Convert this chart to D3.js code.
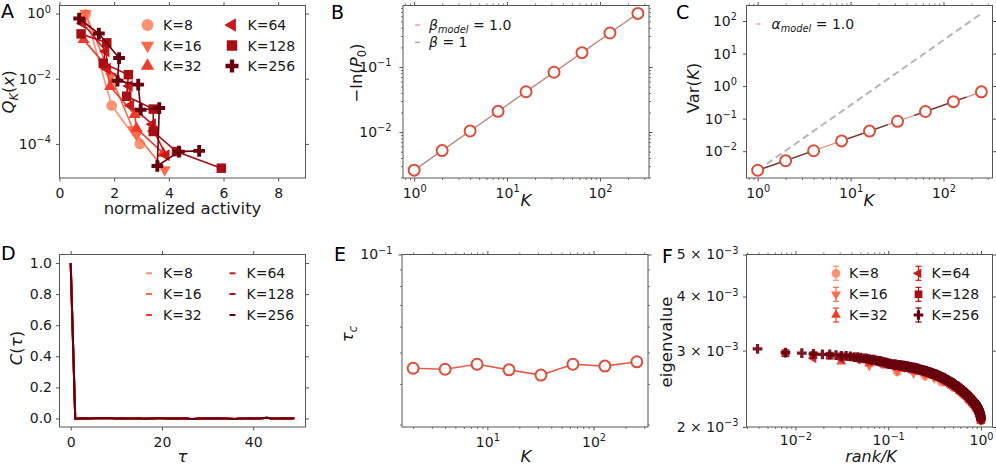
<!DOCTYPE html>
<html>
<head>
<meta charset="utf-8">
<title>Figure</title>
<script src="https://cdn.jsdelivr.net/npm/d3@7"></script>
<style>
  body { margin: 0; background: #fff; }
  svg { font-family: "DejaVu Sans", sans-serif; }
</style>
</head>
<body>
<svg id="fig" width="996" height="465"></svg>
<script>
// ---------------- data ----------------
var kList = [8, 16, 32, 64, 128, 256];
var kColors = ["#fc9272", "#fb6a4a", "#ef3b2c", "#cb181d", "#a50f15", "#67000d"];
var kShapes = ["circle", "down", "up", "left", "square", "plus"];

// A: Q_K(x) vs normalized activity (one array per K, in kList order)
var actX = [
  [0.96, 1.91, 2.94],
  [0.95, 1.88, 2.70, 2.82, 3.85],
  [0.88, 1.70, 1.85, 2.75, 2.82, 3.79],
  [0.85, 1.70, 1.75, 2.55, 2.60, 3.40, 3.45, 3.90],
  [0.79, 1.73, 1.60, 2.52, 2.46, 3.43, 3.43, 4.28, 5.92],
  [0.72, 1.44, 2.18, 2.12, 2.88, 2.97, 3.65, 3.58, 4.37, 5.11]
];
var actQ = [
  [0.95, 1.5e-3, 1.0e-4],
  [1.0, 0.012, 2.7e-4, 1.9e-4, 1.6e-5],
  [0.158, 0.025, 0.0058, 8e-4, 3e-4, 5.2e-5],
  [0.5, 0.07, 0.02, 0.006, 0.0015, 4e-4, 2.5e-4, 4.5e-5],
  [0.237, 0.126, 0.030, 0.0133, 0.0029, 1.17e-3, 2.4e-4, 5.8e-5, 1.8e-5],
  [0.70, 0.243, 0.043, 0.0087, 0.0066, 1.12e-3, 1.26e-3, 2.1e-5, 5.8e-5, 6.1e-5]
];

// B, C: scaling with K
var kScale = [1, 2, 4, 8, 16, 32, 64, 128, 256];
var negLnP0 = [0.0026, 0.0052, 0.0104, 0.0208, 0.0416, 0.083, 0.166, 0.333, 0.666];
var varK = [0.0026, 0.0051, 0.0103, 0.0207, 0.0415, 0.083, 0.166, 0.332, 0.665];
var varCorrelated = [0.0026, 0.0104, 0.0416, 0.166, 0.666, 2.66, 10.6, 42.6, 170];

// D: autocorrelation (curves for all K overlap)
var tauLags = d3.range(50);
var corrVals = [1.000, -0.002, 0.000, 0.001, 0.000, 0.001, 0.002, 0.003, 0.002, 0.001,
  0.000, 0.001, -0.001, 0.000, 0.000, 0.001, -0.002, -0.001, 0.000, 0.002,
  0.001, 0.000, 0.000, -0.001, 0.000, 0.001, -0.002, -0.003, -0.001, 0.000,
  0.001, 0.000, 0.001, 0.000, -0.001, -0.002, -0.003, -0.001, 0.000, 0.001,
  0.000, -0.001, 0.002, 0.004, 0.000, -0.001, 0.000, 0.001, 0.000, 0.001];

// E: correlation time
var kTau = [2, 4, 8, 16, 32, 64, 128, 256];
var tauC = [0.0447, 0.0444, 0.0460, 0.0442, 0.0426, 0.0460, 0.0454, 0.0468];

// F: eigenvalues (x 1e-3), ordered by rank
var eig8 = [2.68, 2.62, 2.54, 2.47, 2.40, 2.32, 2.22, 2.07];
var eig16 = [2.77, 2.69, 2.66, 2.63, 2.59, 2.56, 2.52, 2.48, 2.44, 2.40, 2.36, 2.32, 2.28, 2.23, 2.18, 2.07];
var eig32 = [2.83, 2.80, 2.77, 2.74, 2.72, 2.70, 2.68, 2.66, 2.64, 2.62,
  2.60, 2.58, 2.56, 2.53, 2.51, 2.49, 2.47, 2.45, 2.42, 2.40,
  2.38, 2.36, 2.34, 2.31, 2.29, 2.27, 2.25, 2.23, 2.20, 2.17, 2.14, 2.07];
var eig64 = [2.88, 2.87, 2.86, 2.84, 2.81, 2.79, 2.77, 2.75, 2.74, 2.73,
  2.72, 2.71, 2.70, 2.69, 2.68, 2.67, 2.66, 2.65, 2.64, 2.63,
  2.62, 2.61, 2.60, 2.59, 2.58, 2.57, 2.55, 2.54, 2.53, 2.52,
  2.51, 2.50, 2.49, 2.48, 2.47, 2.46, 2.44, 2.43, 2.42, 2.41,
  2.40, 2.39, 2.38, 2.37, 2.36, 2.35, 2.33, 2.32, 2.31, 2.30,
  2.29, 2.28, 2.27, 2.26, 2.25, 2.24, 2.23, 2.22, 2.20, 2.19,
  2.17, 2.15, 2.12, 2.08];
var eig128 = [2.96, 2.93, 2.92, 2.91, 2.90, 2.89, 2.87, 2.86, 2.85, 2.83,
  2.83, 2.81, 2.79, 2.78, 2.78, 2.77, 2.77, 2.76, 2.76, 2.75,
  2.75, 2.74, 2.73, 2.73, 2.72, 2.72, 2.71, 2.71, 2.70, 2.70,
  2.69, 2.69, 2.68, 2.67, 2.67, 2.66, 2.66, 2.65, 2.65, 2.64,
  2.64, 2.63, 2.62, 2.62, 2.61, 2.61, 2.60, 2.60, 2.59, 2.59,
  2.58, 2.58, 2.57, 2.56, 2.56, 2.55, 2.55, 2.54, 2.54, 2.53,
  2.53, 2.52, 2.51, 2.51, 2.50, 2.50, 2.49, 2.49, 2.48, 2.48,
  2.47, 2.47, 2.46, 2.45, 2.45, 2.44, 2.44, 2.43, 2.43, 2.42,
  2.42, 2.41, 2.40, 2.40, 2.39, 2.39, 2.38, 2.38, 2.37, 2.37,
  2.36, 2.36, 2.35, 2.34, 2.34, 2.33, 2.33, 2.32, 2.32, 2.31,
  2.31, 2.30, 2.29, 2.29, 2.28, 2.28, 2.27, 2.27, 2.26, 2.26,
  2.25, 2.25, 2.24, 2.23, 2.23, 2.22, 2.21, 2.20, 2.20, 2.19,
  2.18, 2.17, 2.16, 2.15, 2.13, 2.12, 2.10, 2.08];
var eig256 = [3.03, 2.97, 2.96, 2.95, 2.94, 2.94, 2.93, 2.92, 2.92, 2.91, 2.90, 2.90, 2.89, 2.88, 2.88, 2.87,
  2.86, 2.86, 2.85, 2.84, 2.84, 2.83, 2.82, 2.82, 2.81, 2.80, 2.80, 2.79, 2.79, 2.79, 2.79, 2.78,
  2.78, 2.78, 2.78, 2.77, 2.77, 2.77, 2.76, 2.76, 2.76, 2.76, 2.75, 2.75, 2.75, 2.74, 2.74, 2.74,
  2.74, 2.73, 2.73, 2.73, 2.73, 2.72, 2.72, 2.72, 2.71, 2.71, 2.71, 2.71, 2.70, 2.70, 2.70, 2.70,
  2.69, 2.69, 2.69, 2.68, 2.68, 2.68, 2.68, 2.67, 2.67, 2.67, 2.66, 2.66, 2.66, 2.66, 2.65, 2.65,
  2.65, 2.65, 2.64, 2.64, 2.64, 2.63, 2.63, 2.63, 2.63, 2.62, 2.62, 2.62, 2.62, 2.61, 2.61, 2.61,
  2.60, 2.60, 2.60, 2.60, 2.59, 2.59, 2.59, 2.59, 2.58, 2.58, 2.58, 2.57, 2.57, 2.57, 2.57, 2.56,
  2.56, 2.56, 2.55, 2.55, 2.55, 2.55, 2.54, 2.54, 2.54, 2.54, 2.53, 2.53, 2.53, 2.52, 2.52, 2.52,
  2.52, 2.51, 2.51, 2.51, 2.51, 2.50, 2.50, 2.50, 2.49, 2.49, 2.49, 2.49, 2.48, 2.48, 2.48, 2.48,
  2.47, 2.47, 2.47, 2.46, 2.46, 2.46, 2.46, 2.45, 2.45, 2.45, 2.44, 2.44, 2.44, 2.44, 2.43, 2.43,
  2.43, 2.43, 2.42, 2.42, 2.42, 2.41, 2.41, 2.41, 2.41, 2.40, 2.40, 2.40, 2.40, 2.39, 2.39, 2.39,
  2.38, 2.38, 2.38, 2.38, 2.37, 2.37, 2.37, 2.37, 2.36, 2.36, 2.36, 2.35, 2.35, 2.35, 2.35, 2.34,
  2.34, 2.34, 2.33, 2.33, 2.33, 2.33, 2.32, 2.32, 2.32, 2.32, 2.31, 2.31, 2.31, 2.30, 2.30, 2.30,
  2.30, 2.29, 2.29, 2.29, 2.29, 2.28, 2.28, 2.28, 2.27, 2.27, 2.27, 2.27, 2.26, 2.26, 2.26, 2.26,
  2.25, 2.25, 2.25, 2.24, 2.24, 2.24, 2.23, 2.23, 2.23, 2.22, 2.22, 2.21, 2.21, 2.21, 2.20, 2.20,
  2.19, 2.19, 2.18, 2.18, 2.17, 2.17, 2.16, 2.16, 2.15, 2.14, 2.14, 2.13, 2.12, 2.11, 2.10, 2.08];
var eigByK = [eig8, eig16, eig32, eig64, eig128, eig256];

// ---------------- drawing ----------------
var svg = d3.select("#fig");
var W = 246, H = 172.5;
var FS = 14;
var tickColor = "#555", spineColor = "#555", textColor = "#1a1a1a";
var markRed = "#dc4e3a";

function panel(x0, y0) {
  return svg.append("g").attr("transform", "translate(" + x0 + "," + y0 + ")");
}

// parts: [[text, style]] style may contain "i", "sup", "sub"
function writeParts(t, parts, size) {
  t.text(null);
  var shift = 0;
  parts.forEach(function (p) {
    var st = p[1] || "", target = 0, fs = size;
    if (st.indexOf("sup") >= 0) { target = -0.42 * size; fs = 0.7 * size; }
    if (st.indexOf("sub") >= 0) { target = 0.24 * size; fs = 0.7 * size; }
    var s = t.append("tspan").text(p[0]).attr("font-size", fs);
    if (target !== shift) s.attr("dy", target - shift);
    shift = target;
    if (st.indexOf("i") >= 0) s.attr("font-style", "italic");
  });
}

function pow10(v) {
  var e = Math.round(Math.log10(v));
  return [["10"], [e < 0 ? "\u2212" + (-e) : String(e), "sup"]];
}
function fmtInt(v) { return [[String(v)]]; }
function fmt1(v) { return [[v.toFixed(1)]]; }
function fmtEig(v) { return [[Math.round(v * 1000) + " \u00d7 10"], ["\u22123", "sup"]]; }

function axes(g, x, y, o) {
  var defs = [
    { gen: d3.axisBottom, sc: x, tr: "translate(0," + H + ")", maj: o.xMajor, min: o.xMinor, fmt: o.xFmt, pad: o.xPad || 6.5 },
    { gen: d3.axisTop, sc: x, tr: null, maj: o.xMajor, min: o.xMinor },
    { gen: d3.axisLeft, sc: y, tr: null, maj: o.yMajor, min: o.yMinor, fmt: o.yFmt, pad: o.yPad || 5 },
    { gen: d3.axisRight, sc: y, tr: "translate(" + W + ",0)", maj: o.yMajor, min: o.yMinor }
  ];
  defs.forEach(function (d) {
    if (d.min) {
      var m = g.append("g").attr("transform", d.tr)
        .call(d.gen(d.sc).tickValues(d.min).tickSize(2).tickFormat(""));
      m.select(".domain").remove();
      m.selectAll("line").attr("stroke", tickColor).attr("stroke-width", 0.8);
    }
    var a = g.append("g").attr("transform", d.tr)
      .call(d.gen(d.sc).tickValues(d.maj).tickSize(3.5).tickPadding(d.pad || 4));
    a.select(".domain").remove();
    a.attr("font-size", FS).attr("font-family", null);
    a.selectAll("line").attr("stroke", tickColor);
    if (d.fmt) {
      a.selectAll(".tick text").attr("fill", textColor)
        .each(function (v) { writeParts(d3.select(this), d.fmt(v), FS); });
    } else {
      a.selectAll(".tick text").remove();
    }
  });
  g.append("rect").attr("width", W).attr("height", H)
    .attr("fill", "none").attr("stroke", spineColor).attr("stroke-width", 1);
}

function label(x, y, parts, size, rotate, anchor) {
  var t = svg.append("text").attr("font-size", size)
    .attr("text-anchor", anchor || "middle").attr("fill", textColor);
  if (rotate) t.attr("transform", "translate(" + x + "," + y + ") rotate(-90)");
  else t.attr("x", x).attr("y", y);
  writeParts(t, parts, size);
  return t;
}

var symType = { circle: d3.symbolCircle, down: d3.symbolTriangle, up: d3.symbolTriangle,
  left: d3.symbolTriangle, square: d3.symbolSquare, plus: d3.symbolCross };
var symRot = { down: 180, left: -90 };
var symScale = { circle: 1, down: 0.7, up: 0.7, left: 0.7, square: 1, plus: 0.85 };

function marker(g, shape, cx, cy, size, color) {
  return g.append("path")
    .attr("d", d3.symbol().type(symType[shape]).size(size * symScale[shape])())
    .attr("transform", "translate(" + cx + "," + cy + ")" + (symRot[shape] ? " rotate(" + symRot[shape] + ")" : ""))
    .attr("fill", color);
}

// ---- panel letters ----
[["A", 1, 18], ["B", 331, 18.5], ["C", 676, 18.5], ["D", 1, 260], ["E", 334, 261], ["F", 662, 263]]
  .forEach(function (p) {
    svg.append("text").attr("x", p[1]).attr("y", p[2]).attr("font-size", 19)
      .attr("fill", "#000").text(p[0]);
  });

// ---- A ----
var gA = panel(59.5, 5.5);
var xA = d3.scaleLinear().domain([0, 9]).range([0, W]);
var yA = d3.scaleLog().domain([9e-6, 1.76]).range([H, 0]);
axes(gA, xA, yA, { xMajor: [0, 2, 4, 6, 8], xFmt: fmtInt, yMajor: [1, 1e-2, 1e-4], yFmt: pow10 });
kList.forEach(function (k, i) {
  var pts = actX[i].map(function (v, j) { return [v, actQ[i][j]]; });
  gA.append("path").datum(pts)
    .attr("d", d3.line().x(function (d) { return xA(d[0]); }).y(function (d) { return yA(d[1]); }))
    .attr("fill", "none").attr("stroke", kColors[i]).attr("stroke-width", 1.6);
  pts.forEach(function (d) { marker(gA, kShapes[i], xA(d[0]), yA(d[1]), 90, kColors[i]); });
});
kList.forEach(function (k, i) {
  var col = Math.floor(i / 3), row = i % 3;
  var mx = [88, 172.5][col], ty = [19.5, 40, 60.5][row];
  marker(gA, kShapes[i], mx, ty, 110, kColors[i]);
  gA.append("text").attr("x", mx + 15.5).attr("y", ty + 5).attr("font-size", FS)
    .attr("fill", textColor).text("K=" + k);
});
label(182.5, 214, [["normalized activity"]], 16.5);
label(14, 92, [["Q", "i"], ["K", "subi"], ["("], ["x", "i"], [")"]], 16.5, true);

// ---- B ----
var gB = panel(403, 5.5);
var xB = d3.scaleLog().domain([0.758, 337]).range([0, W]);
var yB = d3.scaleLog().domain([1.97e-3, 0.88]).range([H, 0]);
function minors(lo, hi) {
  var out = [];
  for (var e = Math.floor(Math.log10(lo)); e <= Math.ceil(Math.log10(hi)); e++) {
    for (var m = 2; m <= 9; m++) { var v = m * Math.pow(10, e); if (v >= lo && v <= hi) out.push(v); }
  }
  return out;
}
axes(gB, xB, yB, { xMajor: [1, 10, 100], xMinor: minors(0.758, 337), xFmt: pow10,
  yMajor: [1e-2, 1e-1], yMinor: minors(1.97e-3, 0.88), yFmt: pow10, yPad: 8 });
var lineB = d3.line().x(function (d, i) { return xB(kScale[i]); }).y(function (d) { return yB(d); });
gB.append("path").datum(negLnP0).attr("d", lineB).attr("fill", "none")
  .attr("stroke", "#ef8a78").attr("stroke-width", 1.2);
gB.append("path").datum(negLnP0).attr("d", lineB).attr("fill", "none")
  .attr("stroke", "#8a8a8a").attr("stroke-opacity", 0.55).attr("stroke-width", 1.4);
negLnP0.forEach(function (v, i) {
  gB.append("circle").attr("cx", xB(kScale[i])).attr("cy", yB(v)).attr("r", 5.5)
    .attr("fill", "#fff").attr("stroke", markRed).attr("stroke-width", 2);
});
gB.append("line").attr("x1", 12).attr("x2", 17).attr("y1", 19.5).attr("y2", 19.5).attr("stroke", "#ef8a78").attr("stroke-width", 1.2);
gB.append("line").attr("x1", 12).attr("x2", 17).attr("y1", 36.8).attr("y2", 36.8).attr("stroke", "#aaa").attr("stroke-width", 1.4);
writeParts(gB.append("text").attr("x", 26).attr("y", 24.5).attr("font-size", FS).attr("fill", textColor),
  [["\u03b2", "i"], ["model", "subi"], [" = 1.0"]], FS);
writeParts(gB.append("text").attr("x", 26).attr("y", 41.8).attr("font-size", FS).attr("fill", textColor),
  [["\u03b2", "i"], [" = 1"]], FS);
label(526, 205.5, [["K", "i"]], 16.5);
label(362, 73, [["\u2212ln("], ["P", "i"], ["0", "sub"], [")"]], 16.5, true);

// ---- C ----
var gC = panel(746.5, 5.5);
var xC = d3.scaleLog().domain([0.758, 337]).range([0, W]);
var yC = d3.scaleLog().domain([1.5e-3, 300]).range([H, 0]);
axes(gC, xC, yC, { xMajor: [1, 10, 100], xMinor: minors(0.758, 337), xFmt: pow10,
  yMajor: [1e-2, 1e-1, 1, 10, 100], yFmt: pow10, yPad: 6 });
var lineC = d3.line().x(function (d, i) { return xC(kScale[i]); }).y(function (d) { return yC(d); });
gC.append("path").datum(varCorrelated).attr("d", lineC).attr("fill", "none")
  .attr("stroke", "#b5b5b5").attr("stroke-width", 2).attr("stroke-dasharray", "7,4");
gC.append("path").datum(varK).attr("d", lineC).attr("fill", "none")
  .attr("stroke", "#ef8a78").attr("stroke-width", 1.2);
gC.append("path").datum(varK).attr("d", lineC).attr("fill", "none")
  .attr("stroke", "#6b3a32").attr("stroke-width", 1.4).attr("stroke-dasharray", "55,28");
varK.forEach(function (v, i) {
  gC.append("circle").attr("cx", xC(kScale[i])).attr("cy", yC(v)).attr("r", 5.5)
    .attr("fill", "#fff").attr("stroke", markRed).attr("stroke-width", 2);
});
gC.append("line").attr("x1", 10).attr("x2", 14).attr("y1", 18.5).attr("y2", 18.5).attr("stroke", "#ef8a78").attr("stroke-width", 1.2);
writeParts(gC.append("text").attr("x", 25).attr("y", 23.5).attr("font-size", FS).attr("fill", textColor),
  [["\u03b1", "i"], ["model", "subi"], [" = 1.0"]], FS);
label(869, 205.5, [["K", "i"]], 16.5);
label(699, 88, [["Var("], ["K", "i"], [")"]], 16.5, true);

// ---- D ----
var gD = panel(59.5, 254.5);
var xD = d3.scaleLinear().domain([-2.45, 51.45]).range([0, W]);
var yD = d3.scaleLinear().domain([-0.055, 1.055]).range([H, 0]);
axes(gD, xD, yD, { xMajor: [0, 20, 40], xFmt: fmtInt, yMajor: [0, 0.2, 0.4, 0.6, 0.8, 1.0], yFmt: fmt1, yPad: 4 });
var lineD = d3.line().x(function (d, i) { return xD(tauLags[i]); }).y(function (d) { return yD(d); });
kList.forEach(function (k, i) {
  gD.append("path").datum(corrVals).attr("d", lineD).attr("fill", "none")
    .attr("stroke", kColors[i]).attr("stroke-width", 2);
});
kList.forEach(function (k, i) {
  var col = Math.floor(i / 3), row = i % 3;
  var lx = [86.5, 170][col], ty = [18.8, 39.5, 60.5][row];
  gD.append("line").attr("x1", lx).attr("x2", lx + 6).attr("y1", ty).attr("y2", ty)
    .attr("stroke", kColors[i]).attr("stroke-width", 2);
  gD.append("text").attr("x", lx + 17).attr("y", ty + 5).attr("font-size", FS)
    .attr("fill", textColor).text("K=" + k);
});
label(182.5, 462, [["\u03c4", "i"]], 16.5);
label(22, 348, [["C", "i"], ["("], ["\u03c4", "i"], [")"]], 16.5, true);

// ---- E ----
var gE = panel(402, 254.5);
var xE = d3.scaleLog().domain([1.57, 326]).range([0, W]);
var yE = d3.scaleLog().domain([0.0295, 0.1]).range([H, 0]);
axes(gE, xE, yE, { xMajor: [10, 100], xMinor: minors(1.57, 326), xFmt: pow10,
  yMajor: [0.1], yMinor: minors(0.0295, 0.099), yFmt: pow10, yPad: 6 });
gE.append("path").datum(tauC)
  .attr("d", d3.line().x(function (d, i) { return xE(kTau[i]); }).y(function (d) { return yE(d); }))
  .attr("fill", "none").attr("stroke", "#e2604a").attr("stroke-width", 1.6);
tauC.forEach(function (v, i) {
  gE.append("circle").attr("cx", xE(kTau[i])).attr("cy", yE(v)).attr("r", 5.5)
    .attr("fill", "#fff").attr("stroke", markRed).attr("stroke-width", 2);
});
label(526, 461.5, [["K", "i"]], 16.5);
label(353, 334, [["\u03c4", "i"], ["c", "subi"]], 16.5, true);

// ---- F ----
var gF = panel(746.5, 254.5);
var xF = d3.scaleLog().domain([0.00297, 1.33]).range([0, W]);
var yF = d3.scaleLog().domain([2e-3, 5e-3]).range([H, 0]);
axes(gF, xF, yF, { xMajor: [0.01, 0.1, 1], xMinor: minors(0.00297, 1.33), xFmt: pow10, xPad: 5,
  yMajor: [2e-3, 3e-3, 4e-3, 5e-3], yFmt: fmtEig, yPad: 4.5 });
kList.forEach(function (k, i) {
  eigByK[i].forEach(function (v, j) {
    marker(gF, kShapes[i], xF((j + 1) / k), yF(v * 1e-3), 62, kColors[i]).attr("fill-opacity", 0.9);
  });
});
kList.forEach(function (k, i) {
  var col = Math.floor(i / 3), row = i % 3;
  var mx = [89.5, 172][col], ty = [18.8, 39.8, 60.5][row];
  var c = kColors[i];
  gF.append("line").attr("x1", mx).attr("x2", mx).attr("y1", ty - 7).attr("y2", ty + 7).attr("stroke", c).attr("stroke-width", 1.2);
  gF.append("line").attr("x1", mx - 3).attr("x2", mx + 3).attr("y1", ty - 7).attr("y2", ty - 7).attr("stroke", c).attr("stroke-width", 1.2);
  gF.append("line").attr("x1", mx - 3).attr("x2", mx + 3).attr("y1", ty + 7).attr("y2", ty + 7).attr("stroke", c).attr("stroke-width", 1.2);
  marker(gF, kShapes[i], mx, ty, 60, c);
  gF.append("text").attr("x", mx + 13).attr("y", ty + 5).attr("font-size", FS)
    .attr("fill", textColor).text("K=" + k);
});
label(871, 461.5, [["rank/K", "i"]], 16);
label(672, 342, [["eigenvalue"]], 16.5, true);
</script>
</body>
</html>
